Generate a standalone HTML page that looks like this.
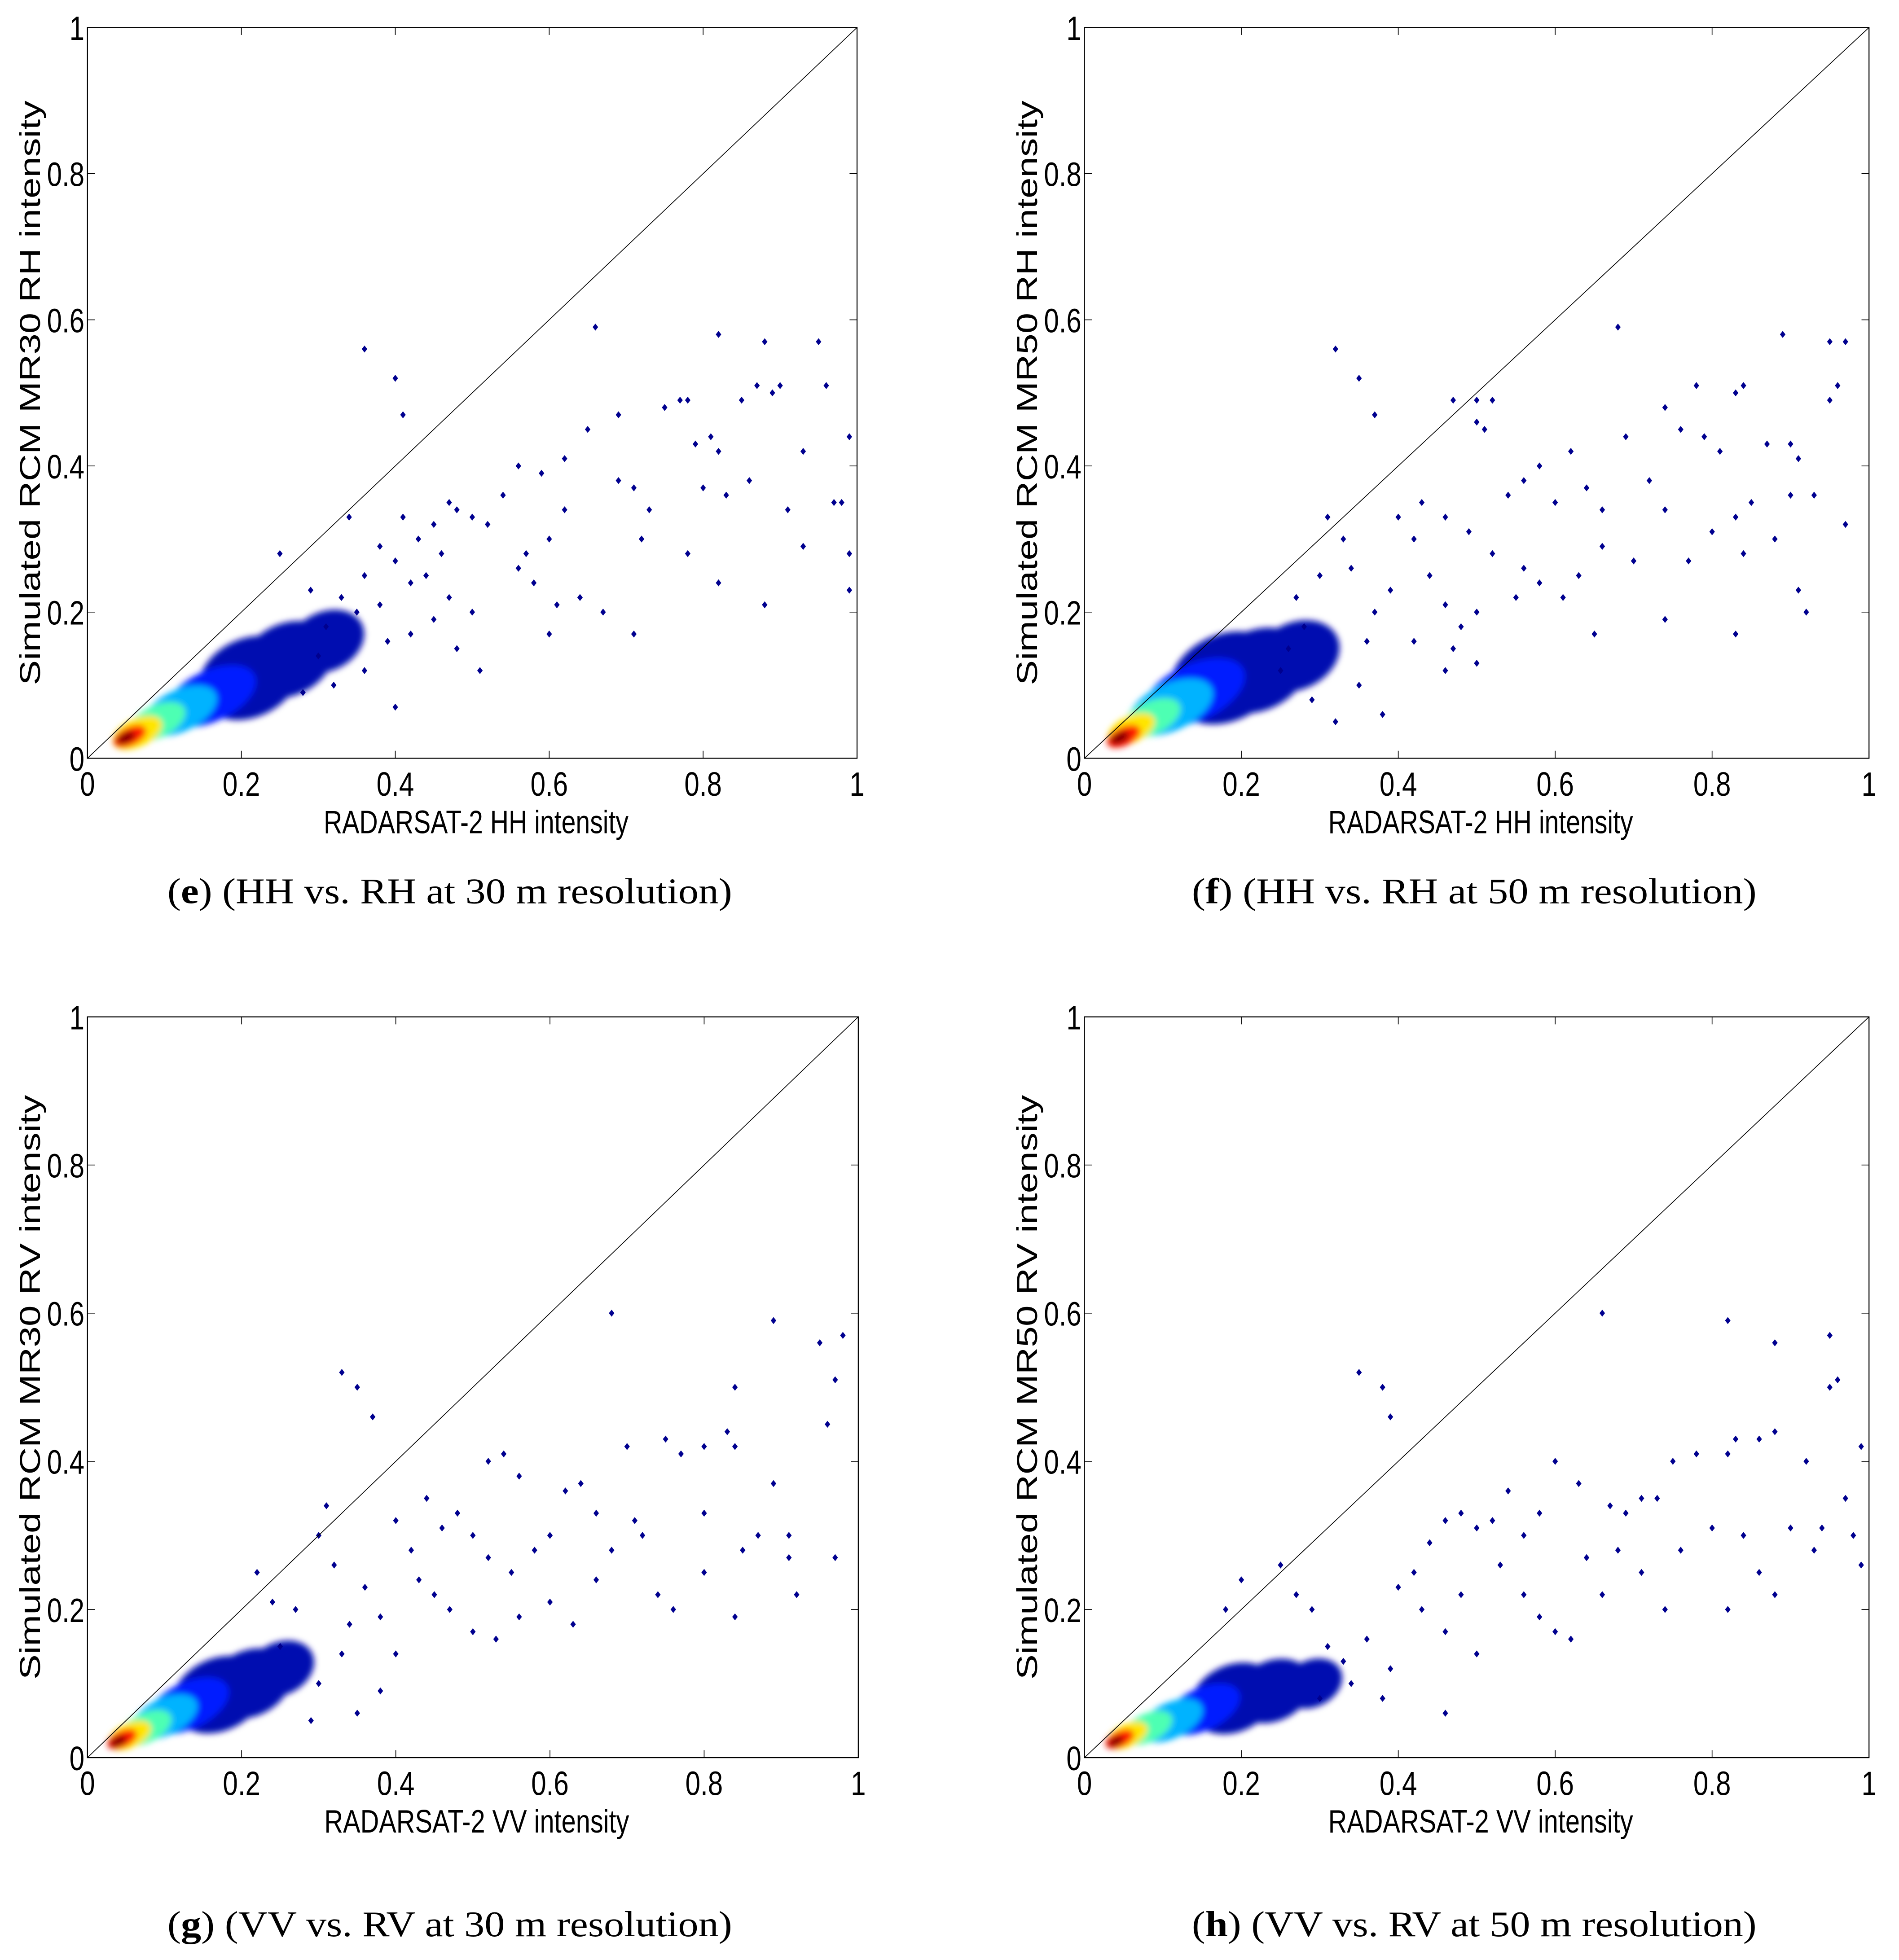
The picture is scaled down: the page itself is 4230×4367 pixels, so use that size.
<!DOCTYPE html>
<html><head><meta charset="utf-8"><style>
html,body{margin:0;padding:0;background:#fff;}
svg{display:block;}
</style></head><body>
<svg id="fig" width="4230" height="4367" viewBox="0 0 1520 1569" preserveAspectRatio="none" xmlns="http://www.w3.org/2000/svg">
<defs><filter id="blur" x="-50%" y="-50%" width="200%" height="200%"><feGaussianBlur stdDeviation="2.5"/></filter></defs>
</svg>
<script>
// ---- data (x = RADARSAT-2 intensity, y = simulated RCM intensity) ----
const tickValues = [0, 0.2, 0.4, 0.6, 0.8, 1];
const tickLabels = ["0", "0.2", "0.4", "0.6", "0.8", "1"];

const eX = [0.36,0.40,0.41,0.66,0.82,0.88,0.95,0.96,0.87,0.89,0.90,0.77,0.78,0.75,0.69,0.85,0.65,0.62,0.56,0.59,0.79,0.81,0.82,0.93,0.99,0.97,0.98,0.99,0.99,0.88,0.82,0.93,0.91,0.86,0.83,0.80,0.78,0.71,0.67,0.69,0.73,0.72,0.71,0.60,0.64,0.61,0.58,0.56,0.57,0.60,0.62,0.54,0.50,0.52,0.48,0.45,0.47,0.43,0.41,0.46,0.44,0.40,0.38,0.42,0.47,0.50,0.45,0.48,0.51,0.40,0.36,0.39,0.35,0.33,0.31,0.30,0.34,0.25,0.36,0.38,0.42,0.32,0.28,0.29];
const eY = [0.56,0.52,0.47,0.59,0.58,0.57,0.57,0.51,0.51,0.50,0.51,0.49,0.49,0.48,0.47,0.49,0.45,0.41,0.40,0.39,0.43,0.44,0.42,0.42,0.44,0.35,0.35,0.28,0.23,0.21,0.24,0.29,0.34,0.38,0.36,0.37,0.28,0.17,0.20,0.38,0.34,0.30,0.37,0.17,0.22,0.21,0.24,0.26,0.28,0.30,0.34,0.36,0.33,0.32,0.34,0.32,0.35,0.30,0.33,0.28,0.25,0.27,0.29,0.24,0.22,0.20,0.19,0.15,0.12,0.07,0.12,0.16,0.20,0.22,0.18,0.14,0.33,0.28,0.25,0.21,0.17,0.10,0.09,0.23];
const eCloudX = [0.31,0.26,0.21,0.16,0.12,0.09,0.065,0.055,0.05];
const eCloudY = [0.16,0.135,0.11,0.085,0.065,0.05,0.035,0.03,0.028];
const eCloudR = [0.045,0.055,0.06,0.055,0.045,0.035,0.03,0.02,0.011];
const eCloudLevel = [0.05,0.08,0.1,0.15,0.3,0.45,0.65,0.85,1.0];

const fX = [0.32,0.35,0.37,0.47,0.50,0.52,0.50,0.51,0.68,0.89,0.95,0.97,0.96,0.95,0.84,0.83,0.78,0.74,0.69,0.76,0.79,0.81,0.87,0.90,0.91,0.62,0.58,0.56,0.54,0.60,0.64,0.66,0.72,0.74,0.70,0.66,0.63,0.61,0.58,0.56,0.55,0.65,0.74,0.77,0.80,0.83,0.84,0.85,0.88,0.90,0.91,0.92,0.93,0.97,0.83,0.50,0.48,0.46,0.44,0.42,0.40,0.43,0.46,0.49,0.52,0.47,0.50,0.46,0.42,0.39,0.37,0.36,0.34,0.31,0.33,0.30,0.28,0.35,0.38,0.32,0.29,0.25,0.27,0.26];
const fY = [0.56,0.52,0.47,0.49,0.49,0.49,0.46,0.45,0.59,0.58,0.57,0.57,0.51,0.49,0.51,0.50,0.51,0.48,0.44,0.45,0.44,0.42,0.43,0.43,0.41,0.42,0.40,0.38,0.36,0.35,0.37,0.34,0.38,0.34,0.27,0.29,0.25,0.22,0.24,0.26,0.22,0.17,0.19,0.27,0.31,0.33,0.28,0.35,0.30,0.36,0.23,0.20,0.36,0.32,0.17,0.20,0.18,0.21,0.25,0.30,0.33,0.35,0.33,0.31,0.28,0.15,0.13,0.12,0.16,0.23,0.20,0.16,0.26,0.33,0.30,0.25,0.18,0.10,0.06,0.05,0.08,0.12,0.22,0.15];
const fCloudX = [0.27,0.22,0.18,0.14,0.11,0.085,0.06,0.05,0.045];
const fCloudY = [0.14,0.12,0.11,0.09,0.07,0.055,0.04,0.03,0.028];
const fCloudR = [0.05,0.06,0.065,0.06,0.05,0.035,0.028,0.02,0.011];
const fCloudLevel = [0.05,0.08,0.1,0.15,0.3,0.45,0.65,0.85,1.0];

const gX = [0.33,0.35,0.37,0.68,0.89,0.95,0.98,0.97,0.96,0.84,0.83,0.84,0.80,0.77,0.75,0.70,0.52,0.54,0.56,0.62,0.64,0.66,0.71,0.72,0.68,0.60,0.58,0.55,0.52,0.50,0.48,0.46,0.44,0.42,0.40,0.43,0.45,0.47,0.50,0.53,0.56,0.60,0.63,0.66,0.74,0.76,0.80,0.85,0.87,0.89,0.91,0.92,0.91,0.97,0.84,0.80,0.40,0.38,0.36,0.34,0.32,0.30,0.31,0.33,0.30,0.29,0.35,0.38,0.27,0.25,0.22,0.24];
const gY = [0.52,0.50,0.46,0.60,0.59,0.56,0.57,0.51,0.45,0.50,0.44,0.42,0.42,0.41,0.43,0.42,0.40,0.41,0.38,0.36,0.37,0.33,0.32,0.30,0.28,0.30,0.28,0.25,0.27,0.30,0.33,0.31,0.35,0.28,0.32,0.24,0.22,0.20,0.17,0.16,0.19,0.21,0.18,0.24,0.22,0.20,0.25,0.28,0.30,0.37,0.30,0.22,0.27,0.27,0.19,0.33,0.14,0.19,0.23,0.18,0.26,0.30,0.34,0.14,0.10,0.05,0.06,0.09,0.20,0.15,0.25,0.21];
const gCloudX = [0.25,0.21,0.17,0.13,0.10,0.075,0.055,0.045,0.04];
const gCloudY = [0.12,0.10,0.085,0.07,0.055,0.04,0.03,0.025,0.022];
const gCloudR = [0.04,0.05,0.055,0.05,0.04,0.032,0.026,0.018,0.01];
const gCloudLevel = [0.05,0.08,0.1,0.15,0.3,0.45,0.65,0.85,1.0];

const hX = [0.35,0.38,0.39,0.66,0.82,0.88,0.95,0.96,0.95,0.99,0.99,0.98,0.97,0.92,0.88,0.86,0.83,0.82,0.78,0.75,0.73,0.71,0.69,0.67,0.63,0.60,0.58,0.56,0.54,0.52,0.50,0.48,0.46,0.44,0.42,0.40,0.43,0.46,0.50,0.48,0.53,0.56,0.58,0.60,0.62,0.64,0.66,0.68,0.71,0.74,0.76,0.80,0.82,0.84,0.86,0.88,0.90,0.93,0.94,0.38,0.46,0.36,0.34,0.33,0.31,0.30,0.29,0.27,0.25,0.20,0.18,0.39];
const hY = [0.52,0.50,0.46,0.60,0.59,0.56,0.57,0.51,0.50,0.42,0.26,0.30,0.35,0.40,0.44,0.43,0.43,0.41,0.41,0.40,0.35,0.35,0.33,0.34,0.37,0.40,0.33,0.30,0.36,0.32,0.31,0.33,0.32,0.29,0.25,0.23,0.20,0.17,0.14,0.22,0.26,0.22,0.19,0.17,0.16,0.27,0.22,0.28,0.25,0.20,0.28,0.31,0.20,0.30,0.25,0.22,0.31,0.28,0.31,0.08,0.06,0.16,0.10,0.13,0.15,0.08,0.20,0.22,0.26,0.24,0.20,0.12];
const hCloudX = [0.29,0.24,0.19,0.15,0.11,0.08,0.055,0.045,0.04];
const hCloudY = [0.10,0.09,0.08,0.065,0.05,0.04,0.03,0.025,0.022];
const hCloudR = [0.035,0.045,0.05,0.045,0.038,0.03,0.024,0.017,0.009];
const hCloudLevel = [0.05,0.08,0.1,0.15,0.3,0.45,0.65,0.85,1.0];

// ---- layout ----
const NS = "http://www.w3.org/2000/svg";
const svg = document.getElementById('fig');
function mk(tag, attrs, parent){ const e=document.createElementNS(NS,tag); for(const k in attrs) e.setAttribute(k,attrs[k]); (parent||svg).appendChild(e); return e; }
function jet(v){
  const r=Math.min(1,Math.max(0,1.5-Math.abs(4*v-3))), g=Math.min(1,Math.max(0,1.5-Math.abs(4*v-2))), b=Math.min(1,Math.max(0,1.5-Math.abs(4*v-1)));
  return `rgb(${Math.round(r*255)},${Math.round(g*255)},${Math.round(b*255)})`;
}
const panels = [
  {id:'e', x0:70, x1:686, y0:22, y1:607, xs:eX, ys:eY, cx:eCloudX, cy:eCloudY, cr:eCloudR, cl:eCloudLevel, xl:'RADARSAT-2 HH intensity', yl:'Simulated RCM MR30 RH intensity', cap:'(HH vs. RH at 30 m resolution)', capY:714, capC:360},
  {id:'f', x0:868, x1:1496, y0:22, y1:607, xs:fX, ys:fY, cx:fCloudX, cy:fCloudY, cr:fCloudR, cl:fCloudLevel, xl:'RADARSAT-2 HH intensity', yl:'Simulated RCM MR50 RH intensity', cap:'(HH vs. RH at 50 m resolution)', capY:714, capC:1180},
  {id:'g', x0:70, x1:687, y0:814, y1:1407, xs:gX, ys:gY, cx:gCloudX, cy:gCloudY, cr:gCloudR, cl:gCloudLevel, xl:'RADARSAT-2 VV intensity', yl:'Simulated RCM MR30 RV intensity', cap:'(VV vs. RV at 30 m resolution)', capY:1541, capC:360},
  {id:'h', x0:868, x1:1496, y0:814, y1:1407, xs:hX, ys:hY, cx:hCloudX, cy:hCloudY, cr:hCloudR, cl:hCloudLevel, xl:'RADARSAT-2 VV intensity', yl:'Simulated RCM MR50 RV intensity', cap:'(VV vs. RV at 50 m resolution)', capY:1541, capC:1180}
];
panels.forEach(p=>{
  const sx=v=>p.x0+v*(p.x1-p.x0), sy=v=>p.y1-v*(p.y1-p.y0);
  const g=mk('g',{});
  
  
  const cg=mk('g',{filter:'url(#blur)'},g);
  
  
  const ang=-Math.atan2(0.5*(p.y1-p.y0),(p.x1-p.x0))*180/Math.PI;
  for(let i=0;i<p.cx.length;i++){
    const low=p.cl[i]<0.12;
    const rx=p.cr[i]*(p.x1-p.x0)*1.15, ry=p.cr[i]*(p.x1-p.x0)*(low?0.85:0.6);
    const el=mk('ellipse',{cx:sx(p.cx[i]),cy:sy(p.cy[i]),rx:rx,ry:ry,fill:low?'#0008b0':jet(p.cl[i]),transform:`rotate(${ang} ${sx(p.cx[i])} ${sy(p.cy[i])})`},cg);
    
    
  }
  for(let i=0;i<p.xs.length;i++){
    const x=sx(p.xs[i]), y=sy(p.ys[i]);
    const pt=mk('path',{d:`M${x} ${y-2.8}L${x+2.2} ${y}L${x} ${y+2.8}L${x-2.2} ${y}Z`,fill:'#00008f'},g);
    
    
  }
  const dl=mk('line',{x1:sx(0),y1:sy(0),x2:sx(1),y2:sy(1),stroke:'#000','stroke-width':0.6},g);
  
  
  const box=mk('rect',{x:p.x0,y:p.y0,width:p.x1-p.x0,height:p.y1-p.y0,fill:'none',stroke:'#000','stroke-width':0.8},g);
  
  
  tickValues.forEach((v,i)=>{
    const tx=mk('line',{x1:sx(v),y1:p.y1,x2:sx(v),y2:p.y1-6,stroke:'#000','stroke-width':0.6},g);
    
    
    const tx2=mk('line',{x1:sx(v),y1:p.y0,x2:sx(v),y2:p.y0+6,stroke:'#000','stroke-width':0.6},g);
    
    
    const ty=mk('line',{x1:p.x0,y1:sy(v),x2:p.x0+6,y2:sy(v),stroke:'#000','stroke-width':0.6},g);
    
    
    const ty2=mk('line',{x1:p.x1,y1:sy(v),x2:p.x1-6,y2:sy(v),stroke:'#000','stroke-width':0.6},g);
    
    
    const xl=mk('text',{x:sx(v),y:p.y1+30,'text-anchor':'middle','font-family':'Liberation Sans, sans-serif','font-size':27,transform:`translate(${sx(v)} 0) scale(0.8 1) translate(${-sx(v)} 0)`},g);
    xl.textContent=tickLabels[i];
    
    
    const yl=mk('text',{x:p.x0-3,y:sy(v)+10,'text-anchor':'end','font-family':'Liberation Sans, sans-serif','font-size':27,transform:`translate(${p.x0} 0) scale(0.8 1) translate(${-p.x0} 0)`},g);
    yl.textContent=tickLabels[i];
    
    
  });
  const xa=mk('text',{x:(p.x0+p.x1)/2+(p.x1-p.x0)*0.005,y:p.y1+60,'text-anchor':'middle','font-family':'Liberation Sans, sans-serif','font-size':26,textLength:244,lengthAdjust:'spacingAndGlyphs'},g);
  xa.textContent=p.xl;
  
  
  const cyy=(p.y0+p.y1)/2, cxx=p.x0-38;
  const ya=mk('text',{x:cxx,y:cyy,'text-anchor':'middle','font-family':'Liberation Sans, sans-serif','font-size':23,textLength:468,lengthAdjust:'spacingAndGlyphs',transform:`rotate(-90 ${cxx} ${cyy})`},g);
  ya.textContent=p.yl;
  
  
  const cap=mk('text',{x:p.capC,y:p.capY+9,'text-anchor':'middle','font-family':'Liberation Serif, serif','font-size':29,textLength:452,lengthAdjust:'spacingAndGlyphs'},g);
  
  
  const t1=mk('tspan',{},cap); t1.textContent='(';
  const t2=mk('tspan',{'font-weight':'bold'},cap); t2.textContent=p.id;
  const t3=mk('tspan',{},cap); t3.textContent=') '+p.cap;
});
</script>
</body></html>
